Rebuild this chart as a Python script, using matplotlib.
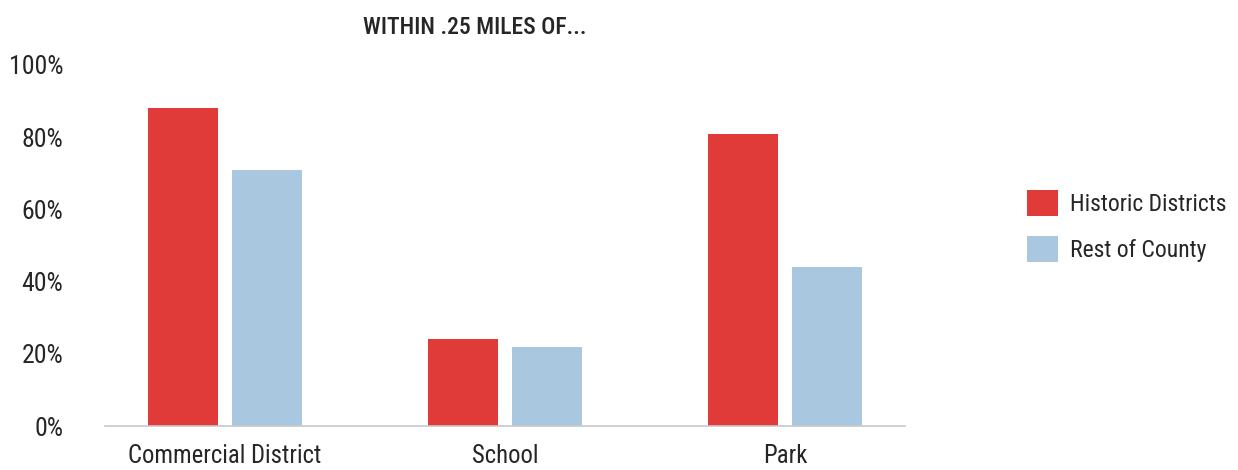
import matplotlib
matplotlib.use("Agg")
import matplotlib.pyplot as plt
import numpy as np
import os
from matplotlib import font_manager
from matplotlib.font_manager import FontProperties

categories = ["Commercial District", "School", "Park"]
historic = [88, 24, 81]
rest = [71, 22, 44]
series_names = ["Historic Districts", "Rest of County"]
yticks = [0, 20, 40, 60, 80, 100]
ytick_labels = ["0%", "20%", "40%", "60%", "80%", "100%"]
title = "WITHIN .25 MILES OF..."

# find a condensed sans face if available
cands = []
for f in font_manager.fontManager.ttflist:
    st = str(f.stretch).lower()
    nm = f.name.lower()
    fn = os.path.basename(f.fname).lower()
    cond = ("condensed" in st or "narrow" in nm or "condensed" in nm
            or "condensed" in fn or "narrow" in fn)
    if cond and ("sans" in nm or "roboto" in nm or "open" in nm):
        cands.append(f)

def pick(weight_words, avoid):
    pref = ["liberation sans narrow", "roboto condensed", "open sans condensed", "dejavu sans"]
    for p in pref:
        for f in cands:
            fn = os.path.basename(f.fname).lower()
            if f.name.lower().startswith(p) and all(w in fn for w in weight_words) \
                    and not any(a in fn for a in avoid):
                return f.fname
    return None

reg = pick([], ["bold", "italic", "oblique", "light", "medium", "thin", "black", "semi"])
med = pick(["medium"], ["italic", "oblique"]) or reg

def fp(size, path=None):
    path = path or reg
    if path:
        return FontProperties(fname=path, size=size)
    return FontProperties(family=["Roboto", "DejaVu Sans"], size=size * 0.92)

RED = "#E03A39"
BLUE = "#A9C7DE"
TXT = "#262626"

fig = plt.figure(figsize=(12.38, 4.70), dpi=100)
ax = fig.add_axes([105/1238, 44/470, 800/1238, 361/470])

x = np.arange(len(categories))
w = 0.249
b1 = ax.bar(x - 0.15, historic, w, color=RED, label=series_names[0])
b2 = ax.bar(x + 0.15, rest, w, color=BLUE, label=series_names[1])

ax.set_xlim(-0.427, 2.427)
ax.set_ylim(0, 100)
ax.set_xticks(x)
ax.set_xticklabels(categories, fontproperties=fp(17.8), color=TXT)
ax.set_yticks(yticks)
ax.set_yticklabels(ytick_labels, fontproperties=fp(18.5), color=TXT)
ax.tick_params(axis="x", length=0, pad=13)
ax.tick_params(axis="y", length=0, pad=30)
for s in ["top", "right", "left"]:
    ax.spines[s].set_visible(False)
ax.spines["bottom"].set_color("#c8c8c8")
ax.spines["bottom"].set_linewidth(1.2)

fig.text(475/1238, 1 - 27/470, title, ha="center", va="center",
         fontproperties=fp(17, med), color=TXT)

leg = fig.legend(handles=[b1, b2], loc="upper left",
                 bbox_to_anchor=(1006/1238, 1 - 169/470), frameon=False,
                 prop=fp(17), handlelength=1.3, handleheight=1.3,
                 labelspacing=0.85, handletextpad=0.5, labelcolor=TXT)

fig.savefig("out.png", dpi=100)
